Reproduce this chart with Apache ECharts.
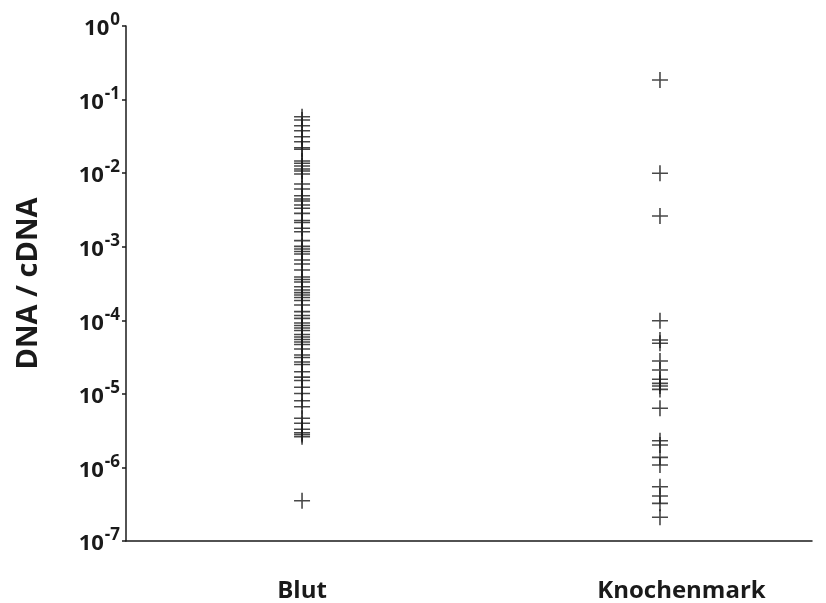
<!DOCTYPE html>
<html>
<head>
<meta charset="utf-8">
<script src="https://cdn.jsdelivr.net/npm/echarts@6/dist/echarts.min.js"></script>
<style>html,body{margin:0;padding:0;background:#fff}#c{width:826px;height:603px}</style>
</head>
<body>
<div id="c"></div>
<script>
var categories = ['Blut', 'Knochenmark'];
var yAxisName = 'DNA / cDNA';
var tickExponents = ['0', '-1', '-2', '-3', '-4', '-5', '-6', '-7'];

var blutValues = [
  0.0585, 0.0528, 0.0441, 0.0377, 0.0313, 0.02675, 0.02217, 0.02109,
  0.01462, 0.0136, 0.0125, 0.01138, 0.01069, 0.00973, 0.00712, 0.00609,
  0.00494, 0.00445, 0.00418, 0.00369, 0.00333, 0.00284, 0.00227, 0.00213,
  0.00178, 0.0016, 0.00121, 0.00101, 0.000931, 0.000861, 0.000796, 0.00066,
  0.000582, 0.000483, 0.000388, 0.000358, 0.000331, 0.000286, 0.000258, 0.000238,
  0.000221, 0.000204, 0.000186, 0.000161, 0.000131, 0.000116, 0.000106,
  9.18e-5, 8.49e-5, 7.85e-5, 7.26e-5, 6.41e-5, 5.92e-5, 5.48e-5, 5.07e-5,
  4.69e-5, 4.07e-5, 3.37e-5, 3.12e-5, 2.71e-5, 2.51e-5, 2.0e-5, 1.69e-5,
  1.52e-5, 1.23e-5, 1.01e-5, 8.07e-6, 6.69e-6, 4.65e-6, 3.98e-6, 3.3e-6,
  2.96e-6, 2.8e-6, 2.62e-6, 3.53e-7
];

var knochenmarkValues = [
  0.1845, 0.00995, 0.002615, 9.87e-5, 5.4e-5, 4.87e-5, 2.8e-5, 2.11e-5,
  1.58e-5, 1.39e-5, 1.28e-5, 1.15e-5, 6.36e-6, 2.31e-6, 2.02e-6, 1.37e-6,
  1.08e-6, 5.47e-7, 4.09e-7, 3.25e-7, 2.1e-7
];

var FONT = 'Open Sans';
var INK = '#1a1a1a';
var chart = echarts.init(document.getElementById('c'), null, {renderer: 'canvas'});

function toPoints(vals, idx) {
  return vals.map(function (v) { return [idx, v]; });
}

var crossStyle = {color: 'transparent', borderColor: INK, borderWidth: 1.6};
var crossPath = 'path://M8,0 L8,16 M0,8 L16,8';

chart.setOption({
  animation: false,
  backgroundColor: '#ffffff',
  grid: {left: 126, right: 14, top: 26, bottom: 62, containLabel: false},
  xAxis: {
    type: 'value',
    min: -0.4918,
    max: 1.4247,
    splitLine: {show: false},
    axisLine: {show: true, onZero: false, lineStyle: {color: INK, width: 1.5}},
    axisTick: {show: false},
    axisLabel: {
      show: true,
      customValues: [0, 1.06],
      margin: 38,
      fontFamily: FONT,
      fontWeight: 'bold',
      fontSize: 24,
      color: INK,
      formatter: function (v) { return categories[Math.round(v)] || ''; }
    }
  },
  yAxis: {
    type: 'log',
    logBase: 10,
    min: 1e-7,
    max: 1,
    name: yAxisName,
    nameLocation: 'middle',
    nameGap: 83,
    nameRotate: 90,
    nameTextStyle: {fontFamily: FONT, fontWeight: 'bold', fontSize: 29, color: INK},
    splitLine: {show: false},
    axisLine: {show: true, onZero: false, lineStyle: {color: INK, width: 1.5}},
    axisTick: {show: true, inside: false, length: 4, lineStyle: {color: INK, width: 1.5}},
    axisLabel: {
      margin: 6,
      color: INK,
      formatter: function (v) {
        var e = Math.round(Math.log(v) / Math.LN10);
        var idx = tickExponents.indexOf(String(e));
        return '{b|10}{s|' + (idx >= 0 ? tickExponents[idx] : e) + '}';
      },
      rich: {
        b: {fontFamily: FONT, fontWeight: 'bold', fontSize: 22, color: INK, lineHeight: 28, verticalAlign: 'bottom'},
        s: {fontFamily: FONT, fontWeight: 'bold', fontSize: 17, color: INK, lineHeight: 28, verticalAlign: 'top', padding: [0, 0, 6, 1]}
      }
    }
  },
  series: [
    {
      type: 'scatter',
      name: categories[0],
      data: toPoints(blutValues, 0),
      symbol: crossPath,
      symbolSize: 16,
      itemStyle: crossStyle
    },
    {
      type: 'scatter',
      name: categories[1],
      data: toPoints(knochenmarkValues, 1),
      symbol: crossPath,
      symbolSize: 16,
      itemStyle: crossStyle
    }
  ]
});
</script>
</body>
</html>
